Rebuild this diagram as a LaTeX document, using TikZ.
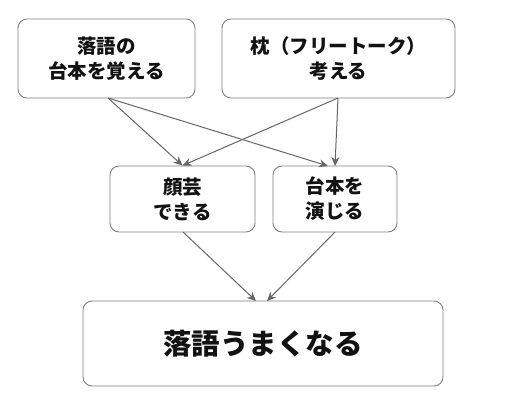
\documentclass[tikz,border=0pt]{standalone}
\usepackage{fontspec}
\newfontfamily\cjk{Noto Sans CJK JP}
\usetikzlibrary{arrows.meta}
\begin{document}
\begin{tikzpicture}[x=1pt,y=-1pt,
  box/.style={draw=black!50, line width=0.9pt, rounded corners=9pt, fill=white, inner sep=0pt,
    font=\cjk\bfseries\fontsize{19.5}{25}\selectfont, align=center, text=black!93},
  conn/.style={draw=black!60, line width=1pt, -{Stealth[length=9pt,width=8pt]}}]
\useasboundingbox (0,0) rectangle (506,406);
\node[box, minimum width=177pt, minimum height=79pt] (a) at (106.5,58.5) {落語の\\台本を覚える};
\node[box, minimum width=233pt, minimum height=79pt] (b) at (338.5,58.5) {枕（フリートーク）\\考える};
\node[box, minimum width=145pt, minimum height=66pt] (c) at (182.5,199) {顔芸\\できる};
\node[box, minimum width=124pt, minimum height=66pt] (d) at (335,199) {台本を\\演じる};
\node[box, minimum width=360pt, minimum height=85pt, font=\cjk\bfseries\fontsize{28.5}{30}\selectfont] (e) at (263,343.5) {落語うまくなる};
\coordinate (a1) at (108,98);
\coordinate (b1) at (338,98);
\coordinate (c1) at (183,232);
\coordinate (d1) at (335,232);
\draw[conn] (a1) -- (c.north);
\draw[conn] (a1) -- (328,166);
\draw[conn] (b1) -- (c.north);
\draw[conn] (b1) -- (335,166);
\draw[conn] (c1) -- (256,301);
\draw[conn] (d1) -- (267,301);
\end{tikzpicture}
\end{document}
